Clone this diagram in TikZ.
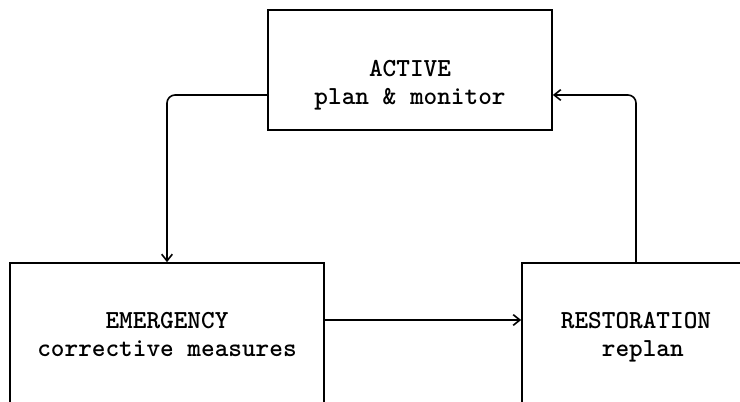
\documentclass[tikz,border=0pt]{standalone}
\usetikzlibrary{calc,arrows.meta}

\begin{document}
\begin{tikzpicture}[x=0.75pt, y=-0.75pt,
  box/.style = {draw, line width=1.3pt, inner sep=0pt},
  lbl/.style = {align=center, inner sep=0pt, font=\ttfamily\bfseries\fontsize{19.5}{21}\selectfont},
  conn/.style = {line width=1.2pt, -{Straight Barb[length=5pt,width=8pt]}, rounded corners=6pt}]
\clip (0,0) rectangle (740,402);
% boxes
\node [box, minimum width=213pt, minimum height=90pt] (active) at (410,70) {};
\node [box, minimum width=235.5pt, minimum height=150pt] (emergency) at (167,363) {};
\node [box, minimum width=171pt, minimum height=150pt] (restoration) at (636,363) {};
% texts
\node [lbl] (activetxt) at (410,85) {ACTIVE\\plan \& monitor};
\node [lbl] (emergencytxt) at (167,334) {EMERGENCY\\corrective measures};
\node [lbl] (restorationtxt) at (636,337) {RESTORATION\\\phantom{r}replan};
% connectors
\draw [conn] ($(active.west)+(0,25)$) -| (emergency.north);
\draw [conn] ($(emergency.east)+(0,-43)$) -- ($(restoration.west)+(0,-43)$);
\draw [conn] (restoration.north) |- ($(active.east)+(0,25)$);
\end{tikzpicture}
\end{document}
